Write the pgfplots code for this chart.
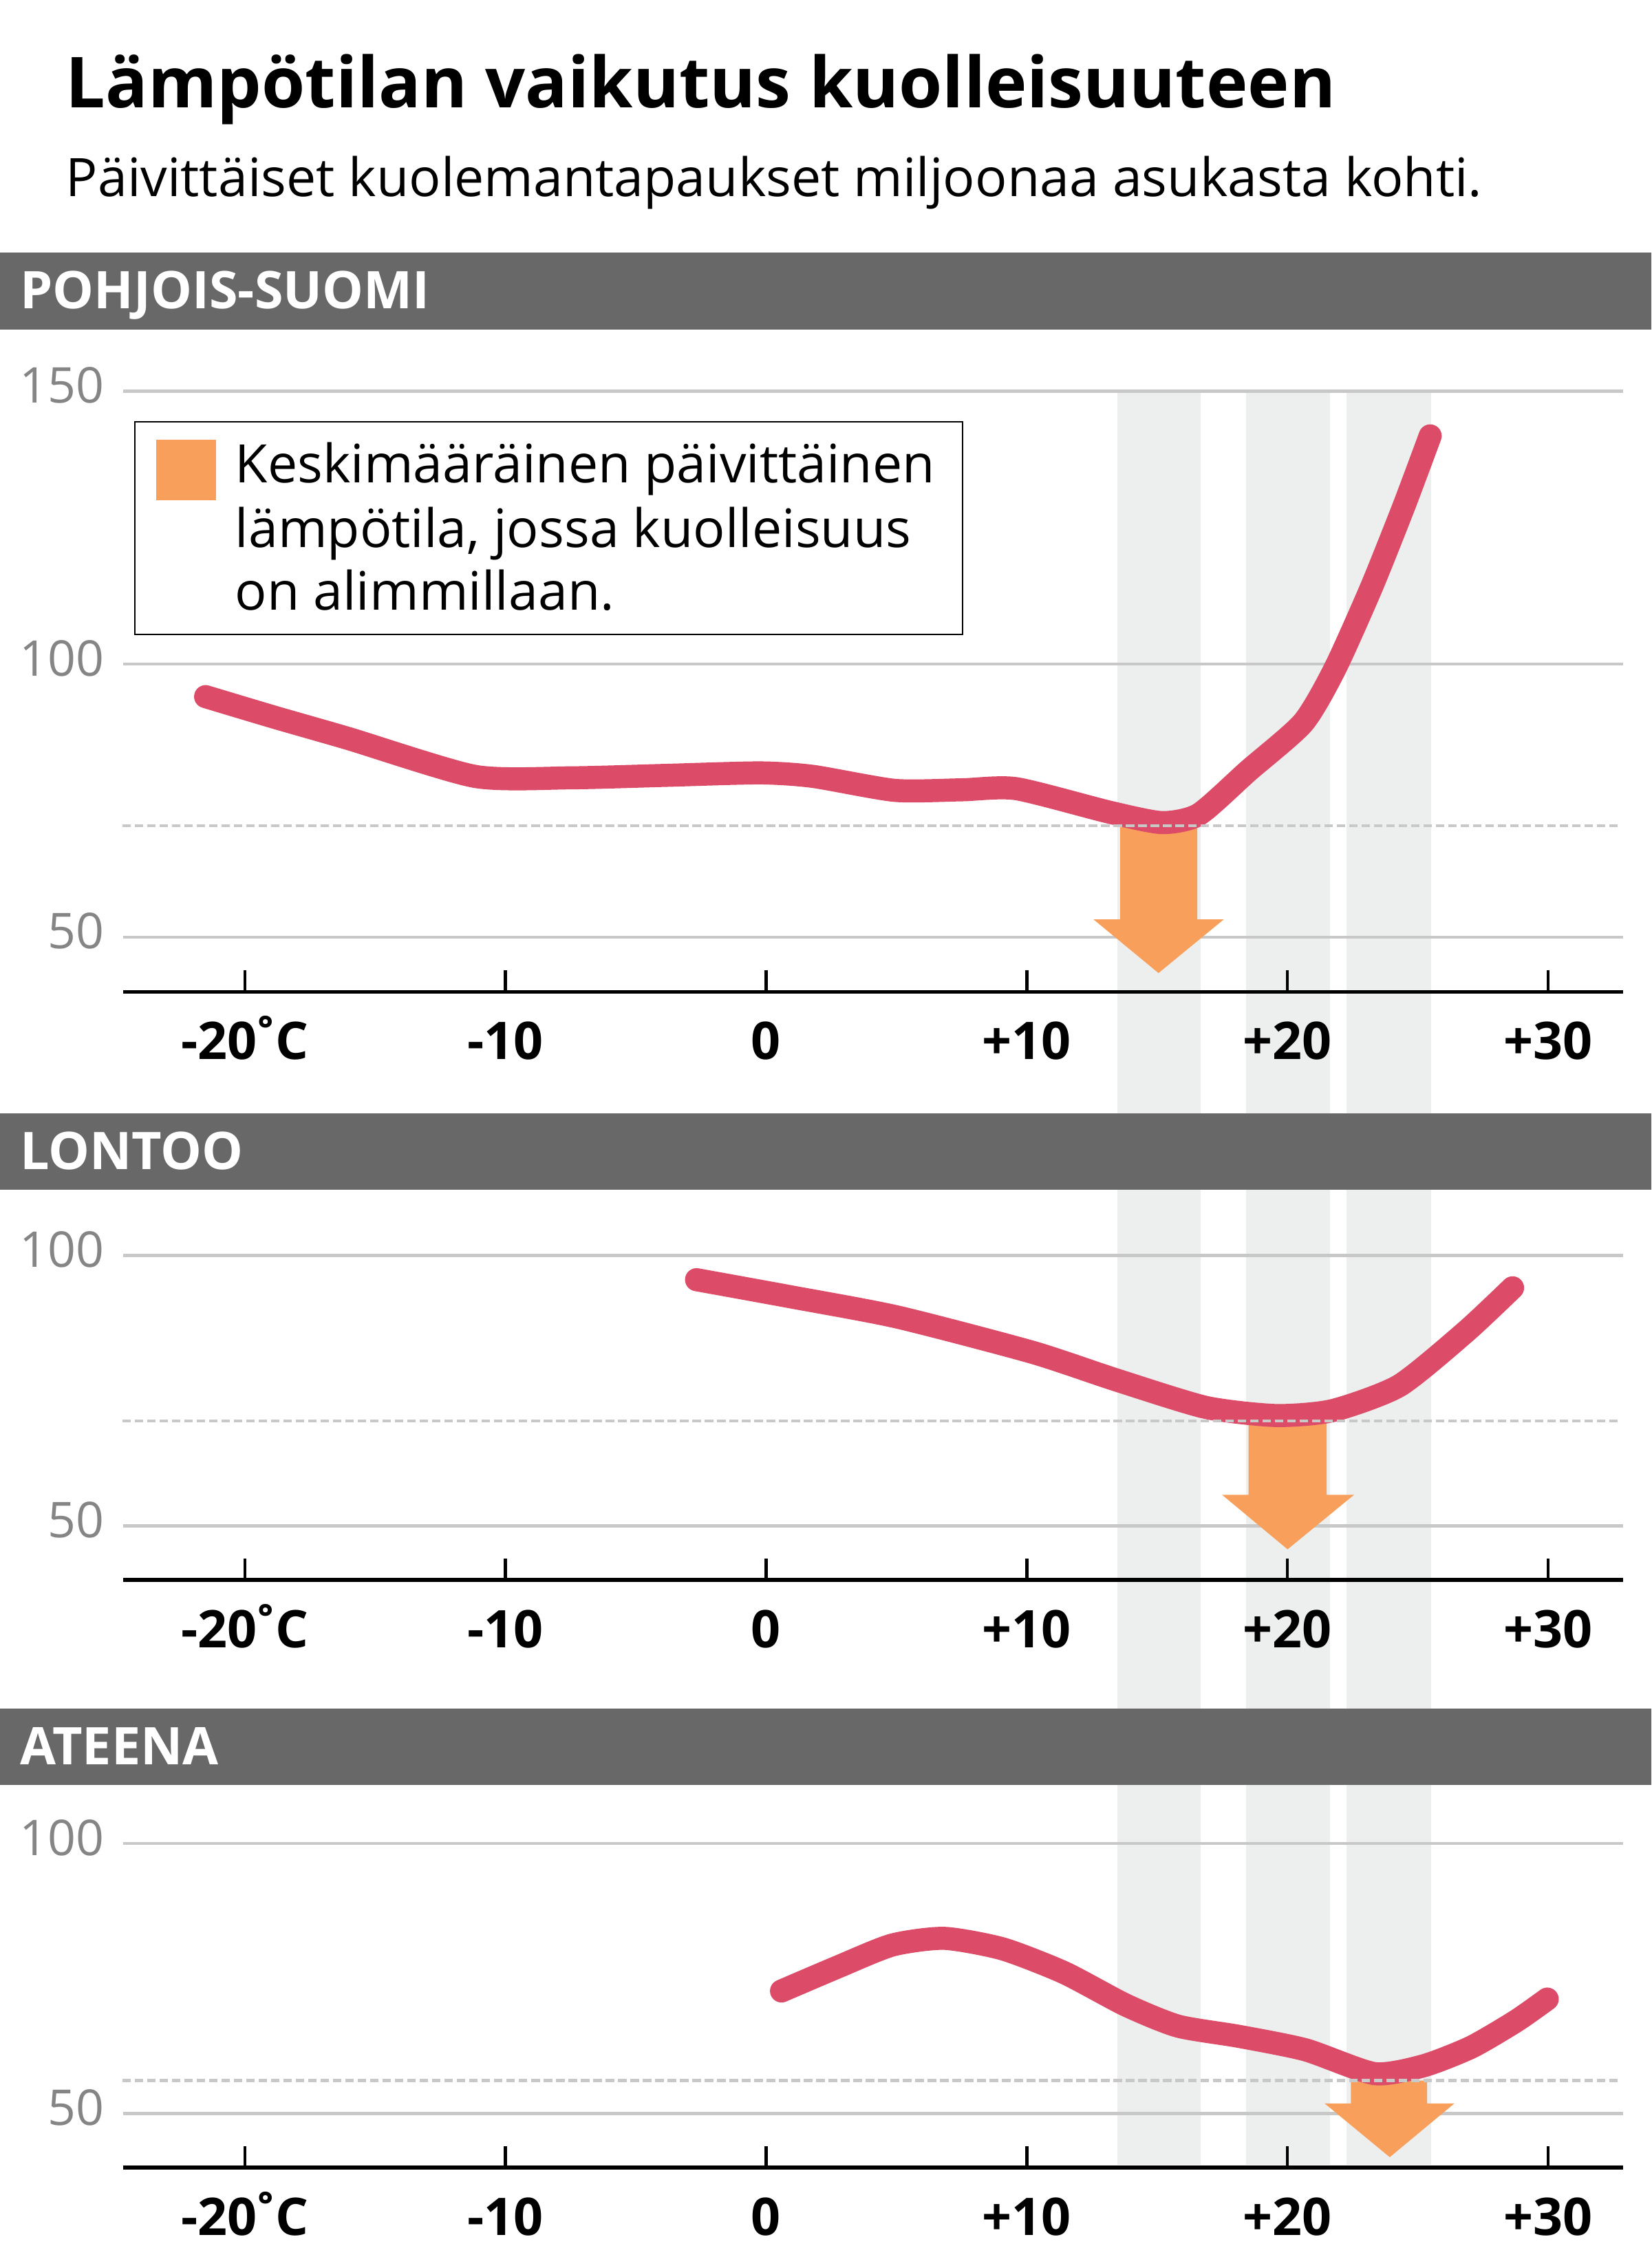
\documentclass[border=0pt]{standalone}
\usepackage{fontspec}
\setmainfont{Open Sans}
\usepackage{pgfplots}
\pgfplotsset{compat=1.18}
\definecolor{curvec}{HTML}{DC4C68}
\definecolor{arrowc}{HTML}{F79F5B}
\definecolor{bandc}{HTML}{EDEFEE}
\definecolor{gridc}{HTML}{C8C8C8}
\definecolor{barc}{HTML}{686868}
\definecolor{ytickc}{HTML}{858585}
\pgfplotsset{
  panel/.style={
    scale only axis,
    width=520.35pt,
    xmin=-24.65, xmax=32.87,
    ymin=40,
    clip=false,
    axis x line=bottom,
    axis y line=left,
    x axis line style={-, line width=1.4pt, black},
    y axis line style={draw=none},
    xtick={-20,-10,0,10,20,30},
    xticklabels={-20\kern-0.13em˚\kern-0.1em C,-10,0,+10,+20,+30},
    tick align=inside,
    major tick length=7.4pt,
    xtick style={black, line width=1pt},
    ytick style={draw=none},
    ymajorgrids,
    grid style={gridc, line width=1.05pt},
    xticklabel style={font=\bfseries\fontsize{18}{20}\selectfont, anchor=base, inner sep=0pt, yshift=-23.4pt},
    yticklabel style={font=\fontsize{17.1}{19}\selectfont, text=ytickc, anchor=east, inner sep=0pt, xshift=-6.4pt, yshift=2.1pt},
  },
  band/.style={fill=bandc, draw=none},
  arrow/.style={fill=arrowc, draw=none},
  curve/.style={curvec, line width=8pt, line cap=round, line join=round, smooth, tension=0.4},
  minline/.style={gridc, line width=1pt, dash pattern=on 3pt off 1.3pt},
}
\begin{document}
\begin{tikzpicture}
\path[use as bounding box] (0,0) rectangle (573pt,-783.1pt);
\node[anchor=base west, inner sep=0pt, font=\bfseries\fontsize{24.4}{28}\selectfont] at (22.7pt,-37.4pt) {Lämpötilan vaikutus kuolleisuuteen};
\node[anchor=base west, inner sep=0pt, font=\fontsize{18.4}{20}\selectfont] at (22.7pt,-68.05pt) {Päivittäiset kuolemantapaukset miljoonaa asukasta kohti.};

% ---------- background bands (temperature ranges), shared by all panels ----------
\begin{axis}[scale only axis, hide axis, at={(42.85pt,-752.05pt)}, anchor=south west,
  width=520.35pt, height=616.35pt, xmin=-24.65, xmax=32.87, ymin=0, ymax=1232.7, clip=false]
\addplot[band] coordinates {(13.46,2) (16.67,2) (16.67,1232.7) (13.46,1232.7)} --cycle;
\addplot[band] coordinates {(18.42,2) (21.63,2) (21.63,1232.7) (18.42,1232.7)} --cycle;
\addplot[band] coordinates {(22.27,2) (25.51,2) (25.51,1232.7) (22.27,1232.7)} --cycle;
\end{axis}

% ---------- header bars ----------
\fill[barc] (0pt,-87.7pt) rectangle (573pt,-114.35pt);
\node[anchor=base west, inner sep=0pt, text=white, font=\bfseries\fontsize{18}{20}\selectfont] at (6.8pt,-107.05pt) {POHJOIS-SUOMI};
\fill[barc] (0pt,-386.2pt) rectangle (573pt,-412.75pt);
\node[anchor=base west, inner sep=0pt, text=white, font=\bfseries\fontsize{18}{20}\selectfont] at (6.8pt,-405.75pt) {LONTOO};
\fill[barc] (0pt,-592.85pt) rectangle (573pt,-619.4pt);
\node[anchor=base west, inner sep=0pt, text=white, font=\bfseries\fontsize{18}{20}\selectfont] at (6.8pt,-612.2pt) {ATEENA};

% ---------- Panel 1: Pohjois-Suomi ----------
\begin{axis}[panel, at={(42.85pt,-344.15pt)}, anchor=south west, height=208.45pt,
  ymax=150, ytick={50,100,150}, yticklabels={50,100,150}]
\addplot[arrow] coordinates {(13.58,70.47) (16.54,70.47) (16.54,53.26) (17.55,53.26) (15.05,43.45) (12.56,53.26) (13.58,53.26)} --cycle;
\addplot[curve] coordinates {
  (-21.50,94.06) (-18.87,90.3) (-16.03,86.4) (-11.17,79.46) (-7.52,79.19)
  (-3.88,79.64) (-0.24,80.1) (1.79,79.46) (4.93,76.9) (7.5,77.0)
  (9.6,77.2) (13.17,72.9) (15.18,71.0) (16.6,72.5) (18.5,80.5)
  (20.6,89.3) (21.83,99.3) (23.22,114.1) (24.46,128.9) (25.47,141.8)};
\addplot[minline] coordinates {(-24.7,70.47) (32.75,70.47)};
\end{axis}

% ---------- legend ----------
\draw[line width=0.5pt, black, fill=white] (46.9pt,-146.3pt) rectangle (334pt,-220.15pt);
\fill[arrowc] (54.1pt,-152.65pt) rectangle (75.05pt,-173.6pt);
\node[anchor=base west, inner sep=0pt, font=\fontsize{18.4}{22}\selectfont] at (81.4pt,-167.55pt) {Keskimääräinen päivittäinen};
\node[anchor=base west, inner sep=0pt, font=\fontsize{18.4}{22}\selectfont] at (81.4pt,-189.85pt) {lämpötila, jossa kuolleisuus};
\node[anchor=base west, inner sep=0pt, font=\fontsize{18.4}{22}\selectfont] at (81.4pt,-211.55pt) {on alimmillaan.};

% ---------- Panel 2: Lontoo ----------
\begin{axis}[panel, at={(42.85pt,-548.2pt)}, anchor=south west, height=112.65pt,
  ymax=100, ytick={50,100}, yticklabels={50,100}]
\addplot[arrow] coordinates {(18.50,69.36) (21.50,69.36) (21.50,55.74) (22.55,55.74) (20.0,45.67) (17.49,55.74) (18.50,55.74)} --cycle;
\addplot[curve] coordinates {
  (-2.67,95.5) (0.98,92.3) (5.03,88.6) (10.20,82.1) (13.41,77.0) (16.86,71.9)
  (19.55,70.4) (21.72,71.3) (24.28,75.9) (26.84,85.9) (28.63,94.0)};
\addplot[minline] coordinates {(-24.7,69.36) (32.75,69.36)};
\end{axis}

% ---------- Panel 3: Ateena ----------
\begin{axis}[panel, at={(42.85pt,-752.05pt)}, anchor=south west, height=112.4pt,
  ymax=100, ytick={50,100}, yticklabels={50,100}]
\addplot[arrow] coordinates {(22.43,56.12) (25.35,56.12) (25.35,51.88) (26.40,51.88) (23.92,41.92) (21.42,51.88) (22.43,51.88)} --cycle;
\addplot[curve] coordinates {
  (0.59,72.7) (2.7,77.05) (4.83,81.2) (6.83,82.45) (9.07,80.5) (11.43,76.1)
  (13.79,70.1) (15.79,66.2) (18.13,64.3) (20.69,61.8) (23.33,57.4) (25.22,58.85)
  (27.05,62.3) (28.77,67.15) (29.96,71.2)};
\addplot[minline] coordinates {(-24.7,56.12) (32.75,56.12)};
\end{axis}
\end{tikzpicture}
\end{document}
